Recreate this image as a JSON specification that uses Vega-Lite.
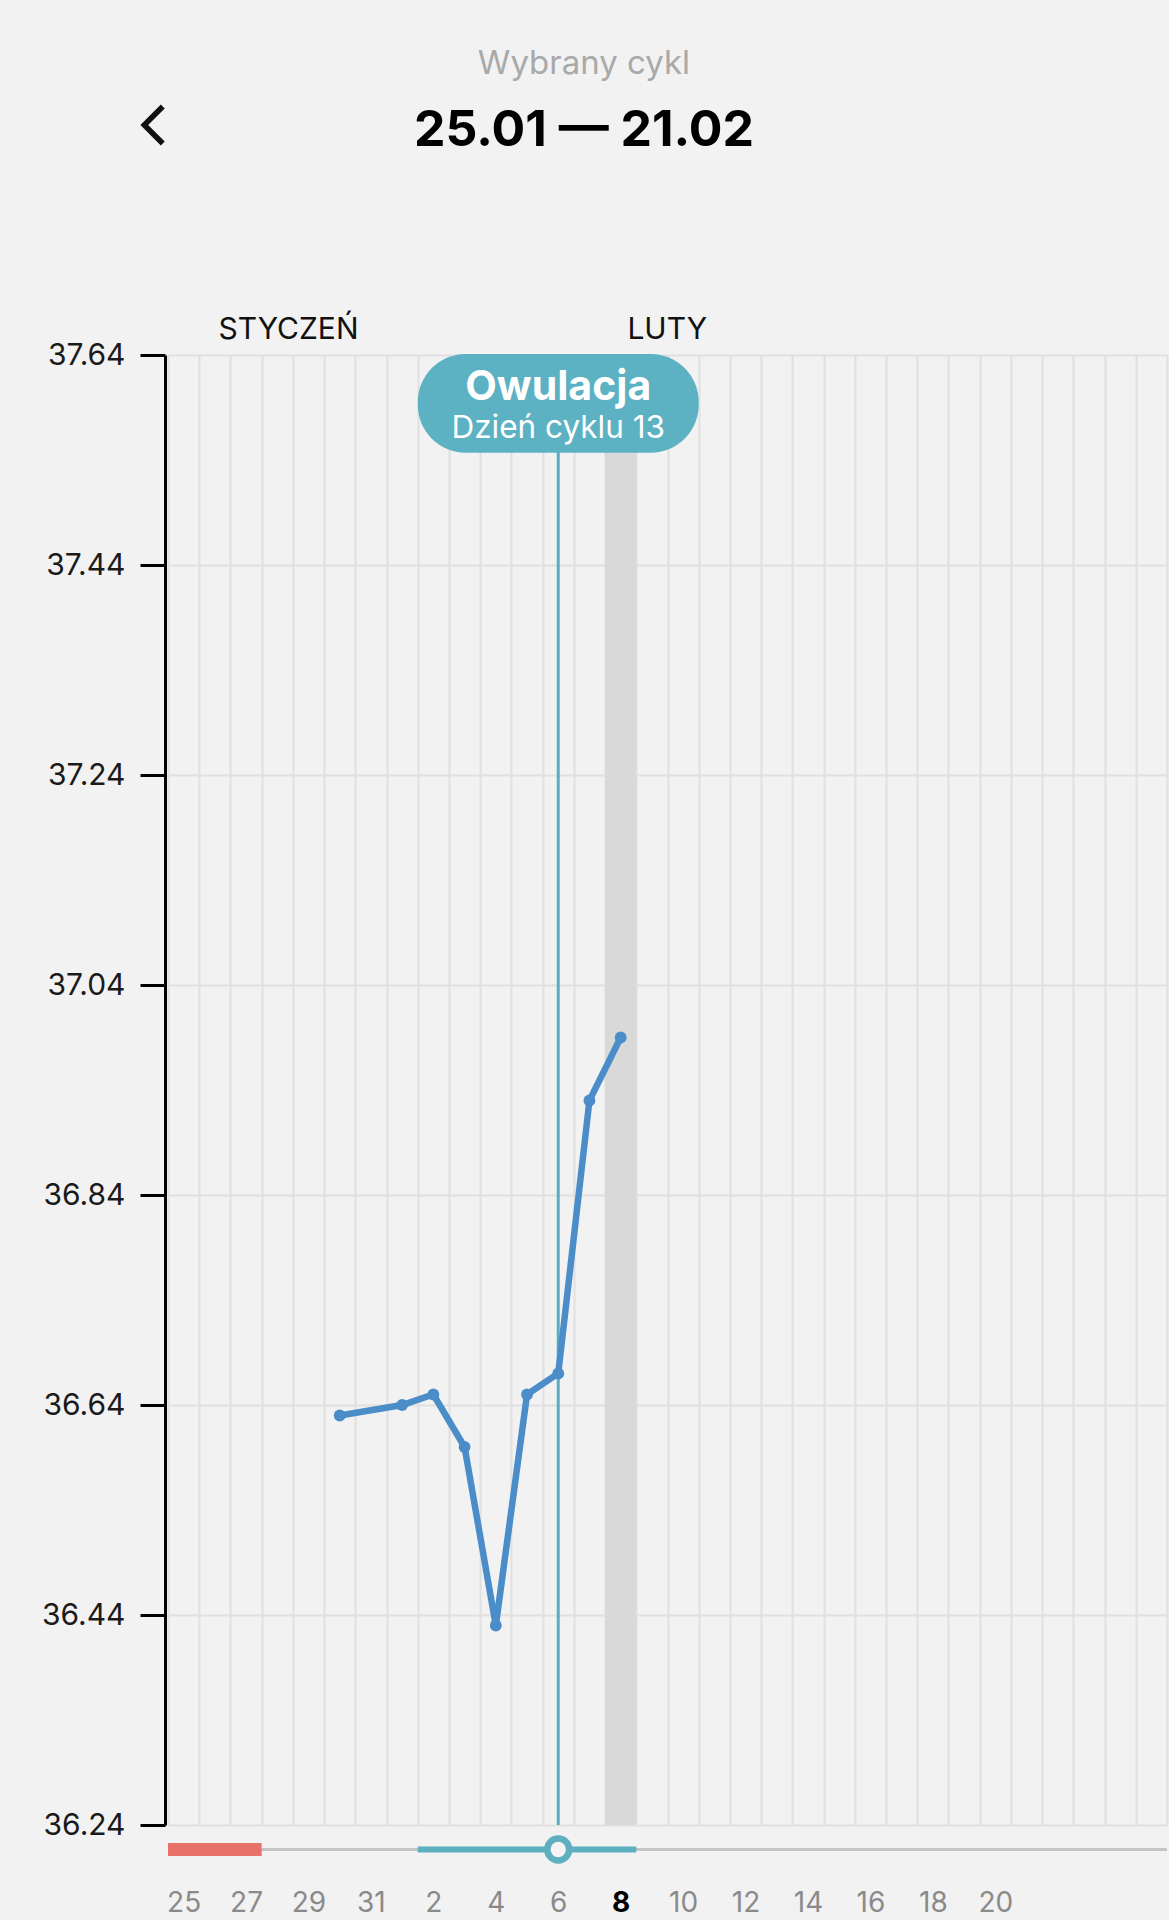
{
  "$schema": "https://vega.github.io/schema/vega-lite/v6.json",
  "width": 999,
  "height": 1470,
  "autosize": {"type": "none"},
  "padding": {"left": 168, "top": 355, "right": 2, "bottom": 95},
  "background": "#f2f2f2",
  "config": {"view": {"stroke": null}, "font": "Inter", "axis": {"labelFont": "Inter"}, "text": {"font": "Inter"}},
  "datasets": {
    "temps": [
      {"day": 6, "date": "30.01", "temp": 36.63},
      {"day": 8, "date": "01.02", "temp": 36.64},
      {"day": 9, "date": "02.02", "temp": 36.65},
      {"day": 10, "date": "03.02", "temp": 36.60},
      {"day": 11, "date": "04.02", "temp": 36.43},
      {"day": 12, "date": "05.02", "temp": 36.65},
      {"day": 13, "date": "06.02", "temp": 36.67},
      {"day": 14, "date": "07.02", "temp": 36.93},
      {"day": 15, "date": "08.02", "temp": 36.99}
    ],
    "today": [{"date": "08.02", "start": 14.5, "end": 15.5}],
    "ovulation": [{"day": 13, "title": "Owulacja", "subtitle": "Dzień cyklu 13"}],
    "track": [
      {"segment": "cykl", "start": 0.5, "end": 32.5},
      {"segment": "miesiączka", "start": 0.5, "end": 3.5},
      {"segment": "dni płodne", "start": 8.5, "end": 15.5}
    ],
    "months": [
      {"month": "STYCZEŃ", "pos": 4.36},
      {"month": "LUTY", "pos": 16.49}
    ]
  },
  "resolve": {"axis": {"x": "independent", "y": "independent"}},
  "layer": [
    {
      "data": {"name": "today"},
      "mark": {"type": "rect", "color": "#d9d9d9"},
      "encoding": {
        "x": {
          "field": "start", "type": "quantitative",
          "scale": {"domain": [0.5, 32.5], "nice": false, "zero": false},
          "axis": {
            "orient": "bottom",
            "values": [0.5,1.5,2.5,3.5,4.5,5.5,6.5,7.5,8.5,9.5,10.5,11.5,12.5,13.5,14.5,15.5,16.5,17.5,18.5,19.5,20.5,21.5,22.5,23.5,24.5,25.5,26.5,27.5,28.5,29.5,30.5,31.5,32.5],
            "grid": true, "gridColor": "#e0e0e0", "gridWidth": 2,
            "ticks": false, "tickSize": 0, "domain": false, "title": null,
            "labelExpr": "((datum.value + 0.5) % 2 == 1 && datum.value + 0.5 <= 27) ? ((datum.value + 0.5 <= 7) ? (datum.value + 24.5) + '' : (datum.value - 6.5) + '') : ''",
            "labelOffset": 15.61,
            "labelFontSize": 28,
            "labelBaseline": "alphabetic",
            "labelPadding": 86,
            "labelOverlap": false,
            "labelBound": false,
            "labelFlush": false,
            "labelColor": {"condition": {"test": "datum.value === 14.5", "value": "#000000"}, "value": "#8a8a8a"},
            "labelFontWeight": {"condition": {"test": "datum.value === 14.5", "value": "bold"}, "value": "normal"}
          }
        },
        "x2": {"field": "end"},
        "y": {"datum": 37.64, "axis": null},
        "y2": {"datum": 36.24}
      }
    },
    {
      "data": {"name": "ovulation"},
      "mark": {"type": "rule", "color": "#5aaec0", "strokeWidth": 3},
      "encoding": {
        "x": {"field": "day", "type": "quantitative", "axis": null},
        "y": {"datum": 37.55, "axis": null},
        "y2": {"datum": 36.24}
      }
    },
    {
      "data": {"name": "temps"},
      "mark": {"type": "line", "color": "#4b8dc8", "strokeWidth": 6.5, "point": {"filled": true, "size": 140, "color": "#4b8dc8"}},
      "encoding": {
        "x": {
          "field": "day", "type": "quantitative",
          "scale": {"domain": [0.5, 32.5], "nice": false, "zero": false},
          "axis": null
        },
        "y": {
          "field": "temp", "type": "quantitative",
          "scale": {"domain": [36.24, 37.64], "nice": false, "zero": false},
          "axis": {
            "orient": "left",
            "values": [36.24, 36.44, 36.64, 36.84, 37.04, 37.24, 37.44, 37.64],
            "format": ".2f", "title": null,
            "grid": true, "gridColor": "#e0e0e0", "gridWidth": 2,
            "domain": true, "domainColor": "#000000", "domainWidth": 3,
            "ticks": true, "tickColor": "#000000", "tickWidth": 3, "tickSize": 25,
            "labelFontSize": 30, "labelColor": "#1a1a1a", "labelPadding": 15,
            "offset": 3
          }
        }
      }
    },
    {
      "data": {"name": "ovulation"},
      "mark": {"type": "rect", "color": "#5cb1c3", "cornerRadius": 48},
      "encoding": {
        "x": {"datum": 8.5, "axis": null},
        "x2": {"datum": 17.5},
        "y": {"datum": 37.641, "axis": null},
        "y2": {"datum": 37.547}
      }
    },
    {
      "data": {"name": "ovulation"},
      "mark": {"type": "text", "color": "#ffffff", "fontSize": 41, "fontWeight": "bold", "align": "center", "baseline": "alphabetic"},
      "encoding": {
        "x": {"field": "day", "type": "quantitative", "axis": null},
        "y": {"datum": 37.597, "axis": null},
        "text": {"field": "title"}
      }
    },
    {
      "data": {"name": "ovulation"},
      "mark": {"type": "text", "color": "#ffffff", "fontSize": 31.5, "align": "center", "baseline": "alphabetic"},
      "encoding": {
        "x": {"field": "day", "type": "quantitative", "axis": null},
        "y": {"datum": 37.561, "axis": null},
        "text": {"field": "subtitle"}
      }
    },
    {
      "data": {"name": "track"},
      "transform": [{"filter": "datum.segment === 'cykl'"}],
      "mark": {"type": "rule", "color": "#c4c4c4", "strokeWidth": 3},
      "encoding": {
        "x": {"field": "start", "type": "quantitative", "axis": null},
        "x2": {"field": "end"},
        "y": {"datum": 36.2167, "axis": null}
      }
    },
    {
      "data": {"name": "track"},
      "transform": [{"filter": "datum.segment === 'miesiączka'"}],
      "mark": {"type": "rule", "color": "#e8716a", "strokeWidth": 13},
      "encoding": {
        "x": {"field": "start", "type": "quantitative", "axis": null},
        "x2": {"field": "end"},
        "y": {"datum": 36.2167, "axis": null}
      }
    },
    {
      "data": {"name": "track"},
      "transform": [{"filter": "datum.segment === 'dni płodne'"}],
      "mark": {"type": "rule", "color": "#5eafc0", "strokeWidth": 6},
      "encoding": {
        "x": {"field": "start", "type": "quantitative", "axis": null},
        "x2": {"field": "end"},
        "y": {"datum": 36.2167, "axis": null}
      }
    },
    {
      "data": {"name": "ovulation"},
      "mark": {"type": "point", "shape": "circle", "filled": true, "fill": "#f4f4f4", "stroke": "#5eafc0", "strokeWidth": 6.5, "size": 480, "opacity": 1},
      "encoding": {
        "x": {"field": "day", "type": "quantitative", "axis": null},
        "y": {"datum": 36.2167, "axis": null}
      }
    },
    {
      "data": {"name": "months"},
      "mark": {"type": "text", "color": "#111111", "fontSize": 30, "align": "center", "baseline": "alphabetic"},
      "encoding": {
        "x": {"field": "pos", "type": "quantitative", "axis": null},
        "y": {"datum": 37.655, "axis": null},
        "text": {"field": "month"}
      }
    },
    {
      "data": {"values": [{"label": "Wybrany cykl"}]},
      "mark": {"type": "text", "color": "#a9a9a9", "fontSize": 33, "align": "center", "baseline": "alphabetic"},
      "encoding": {
        "x": {"datum": 13.825, "axis": null},
        "y": {"datum": 37.9076, "axis": null},
        "text": {"field": "label"}
      }
    },
    {
      "data": {"values": [{"label": "25.01 — 21.02"}]},
      "mark": {"type": "text", "color": "#000000", "fontSize": 50, "fontWeight": "bold", "align": "center", "baseline": "alphabetic"},
      "encoding": {
        "x": {"datum": 13.825, "axis": null},
        "y": {"datum": 37.8393, "axis": null},
        "text": {"field": "label"}
      }
    },
    {
      "data": {"values": [{"action": "wstecz"}]},
      "mark": {"type": "point", "shape": "M0.5,-1L-0.5,0L0.5,1", "filled": false, "stroke": "#111111", "strokeWidth": 5.5, "size": 1369, "opacity": 1},
      "encoding": {
        "x": {"datum": 0.036, "axis": null},
        "y": {"datum": 37.859, "axis": null}
      }
    }
  ]
}
